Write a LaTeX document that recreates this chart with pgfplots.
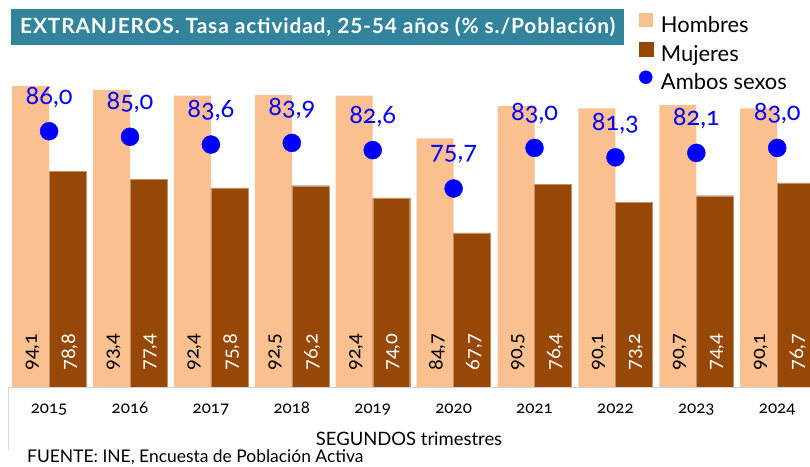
\documentclass[border=0pt]{standalone}
\usepackage{pgfplots}
\pgfplotsset{compat=1.18}
\usepackage{fontspec}
\setmainfont{Lato}[Numbers=OldStyle]
\newfontfamily\titlefont{Lato}[LetterSpace=4.0]
\definecolor{hombres}{HTML}{FAC090}
\definecolor{mujeres}{HTML}{974706}
\definecolor{titlebg}{HTML}{31849B}
\definecolor{ambos}{HTML}{0000FF}
\pgfplotstableread{
x hombres mujeres ambos
0 94.1 78.8 86.0
1 93.4 77.4 85.0
2 92.4 75.8 83.6
3 92.5 76.2 83.9
4 92.4 74.0 82.6
5 84.7 67.7 75.7
6 90.5 76.4 83.0
7 90.1 73.2 81.3
8 90.7 74.4 82.1
9 90.1 76.7 83.0
}\datatable
\begin{document}
\begin{tikzpicture}
\path[use as bounding box] (0,0) rectangle (810bp,467bp);
\draw[gray!30, line width=0.8bp] (8bp,80bp) -- (8bp,17bp);
\begin{axis}[
  at={(8bp,80bp)}, anchor=south west,
  scale only axis, width=802bp, height=387bp,
  xmin=-0.508, xmax=9.405, ymin=40, ymax=109.6,
  hide y axis,
  axis x line*=bottom,
  x axis line style={-, draw=gray!35, line width=0.8bp},
  xtick={0,...,9},
  xticklabels={2015,2016,2017,2018,2019,2020,2021,2022,2023,2024},
  xtick style={draw=none},
  xticklabel style={anchor=base, yshift=-26bp, font=\fontsize{17}{20}\selectfont},
  xlabel={SEGUNDOS trimestres},
  xlabel style={at={(axis description cs:0.5,0)}, anchor=base, yshift=-58bp, font=\fontsize{18.5}{22}\selectfont},
  /pgf/number format/.cd, use comma, fixed, fixed zerofill, precision=1, assume math mode=true,
  /pgfplots/.cd,
  legend style={at={(0.786,0.966)}, anchor=north west, draw=none, fill=none,
    font=\fontsize{22}{26}\selectfont, inner sep=0pt,
    nodes={inner sep=1bp, text height=17bp, text depth=6bp},
    row sep=2bp, column sep=7bp},
  legend cell align=left,
]
\addplot[ybar, bar width=37bp, bar shift=-18.5bp, fill=hombres, draw=none,
  legend image code/.code={\fill[hombres] (0bp,0bp) rectangle (14bp,14bp);},
  nodes near coords,
  visualization depends on={y \as \myy},
  every node near coord/.append style={xshift=-16.5bp, yshift={(40-\myy)*5.5826+13.05}, rotate=90, anchor=west, font=\fontsize{20}{24}\selectfont, text=black}]
  table[x=x, y=hombres] {\datatable};
\addlegendentry{Hombres}
\addplot[ybar, bar width=37bp, bar shift=18.5bp, fill=mujeres, draw=mujeres!60!white, line width=0.4bp,
  legend image code/.code={\fill[mujeres] (0bp,0bp) rectangle (14bp,14bp);},
  nodes near coords,
  visualization depends on={y \as \myy},
  every node near coord/.append style={xshift=20.5bp, yshift={(40-\myy)*5.5826+13.05}, rotate=90, anchor=west, font=\fontsize{20}{24}\selectfont, text=white}]
  table[x=x, y=mujeres] {\datatable};
\addlegendentry{Mujeres}
\addplot[only marks, mark=*, mark size=9bp, color=ambos,
  legend image code/.code={\fill[ambos] (7bp,7bp) circle (6.5bp);},
  nodes near coords,
  every node near coord/.append style={anchor=center, yshift=34bp, font=\fontsize{25.5}{28}\selectfont, text=ambos}]
  table[x=x, y=ambos] {\datatable};
\addlegendentry{Ambos sexos}
\end{axis}
\node[fill=titlebg, text=white, font=\titlefont\bfseries\fontsize{21}{24}\selectfont, anchor=west, minimum height=36bp, inner xsep=9bp] at (11bp,440bp) {EXTRANJEROS. Tasa actividad, 25-54 años (\% s./Población)};
\node[anchor=base west, font=\fontsize{17.5}{20}\selectfont, inner sep=0pt] at (27bp,4.5bp) {FUENTE:\ INE, Encuesta de Población Activa};
\end{tikzpicture}
\end{document}
